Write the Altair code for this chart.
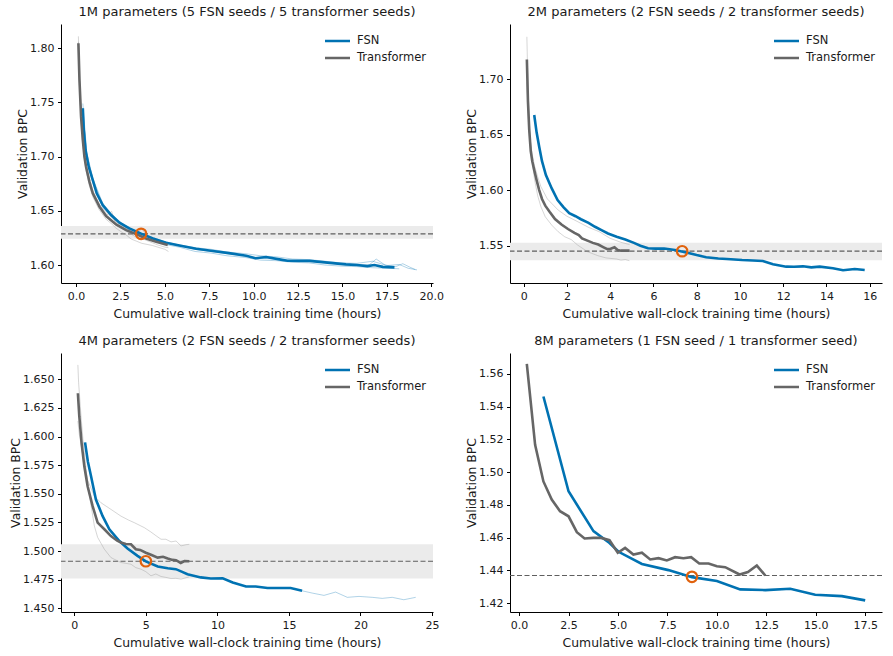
import altair as alt
import pandas as pd

FONT = "DejaVu Sans"
BLUE = "#0072B2"
GREY = "#666666"
ORANGE = "#E0620D"
BAND = "#EBEBEB"
DASH = "#5F5F5F"
TXT = "#1A1A1A"
XTITLE = "Cumulative wall-clock training time (hours)"
YTITLE = "Validation BPC"

# ---------------- Panel 1: 1M parameters ----------------
P1_TITLE = "1M parameters (5 FSN seeds / 5 transformer seeds)"
P1_FSN_X = [0.38, 0.43, 0.53, 0.71, 0.94, 1.16, 1.50, 1.97, 2.44, 3.0, 3.66, 4.32, 5.07, 5.82, 6.76,
            7.7, 8.6, 9.58, 10.1, 10.7, 11.45, 11.9, 13.15, 14.3, 15.2, 15.8, 16.4, 16.8, 17.27, 17.93]
P1_FSN_Y = [1.7446, 1.7246, 1.7061, 1.6907, 1.6784, 1.6661, 1.6553, 1.6461, 1.6390, 1.6338, 1.6290,
            1.6245, 1.6205, 1.6180, 1.6150, 1.6130, 1.6110, 1.6085, 1.6062, 1.6074, 1.6052, 1.6040,
            1.6038, 1.6020, 1.6006, 1.6000, 1.5990, 1.6000, 1.5983, 1.5978]
P1_TR_X = [0.13, 0.19, 0.28, 0.38, 0.47, 0.56, 0.75, 0.94, 1.32, 1.69, 2.25, 2.82, 3.38, 3.94, 4.51, 5.16]
P1_TR_Y = [1.8046, 1.7707, 1.7369, 1.7153, 1.6999, 1.6907, 1.6768, 1.6661, 1.6538, 1.6452, 1.6375,
           1.6322, 1.6285, 1.6245, 1.6214, 1.6184]
P1_TR_SEED_X = [0.13, 0.19, 0.28, 0.38, 0.56, 0.75, 0.94, 1.3, 1.7, 2.0, 2.25, 2.6, 2.8, 3.1, 3.4,
                3.7, 4.0, 4.3, 4.6, 5.0, 5.2]
P1_TR_SEED_A = [1.811, 1.776, 1.742, 1.719, 1.694, 1.680, 1.669, 1.656, 1.648, 1.644, 1.6395, 1.636,
                1.6345, 1.631, 1.629, 1.6335, 1.6265, 1.625, 1.623, 1.621, 1.6195]
P1_TR_SEED_B = [1.800, 1.766, 1.732, 1.711, 1.687, 1.673, 1.663, 1.651, 1.642, 1.638, 1.634, 1.630,
                1.628, 1.624, 1.622, 1.620, 1.619, 1.618, 1.6165, 1.6145, 1.6125]
P1_TR_SEED_C = [1.806, 1.771, 1.737, 1.716, 1.691, 1.677, 1.666, 1.6545, 1.646, 1.6495, 1.637, 1.6335,
                1.6315, 1.6285, 1.6255, 1.6245, 1.6225, 1.6205, 1.6185, 1.6165, 1.616]
P1_FSN_SEED_A_X = [0.38, 0.6, 0.94, 1.5, 2.0, 2.5, 3.0, 3.6, 4.3, 5.0, 5.8, 6.7, 7.6, 8.5, 9.5, 10.4,
                   11.3, 12.2, 13.1, 14.0, 14.9, 15.8, 16.7, 17.5, 18.2, 18.7, 19.2]
P1_FSN_SEED_A_Y = [1.749, 1.704, 1.680, 1.657, 1.647, 1.6395, 1.634, 1.630, 1.6255, 1.6215, 1.6185,
                   1.616, 1.6145, 1.612, 1.6105, 1.6085, 1.6075, 1.6055, 1.605, 1.6035, 1.602, 1.6015,
                   1.6035, 1.5995, 1.6005, 1.597, 1.5955]
P1_FSN_SEED_B_X = [0.38, 0.6, 0.94, 1.5, 2.0, 2.5, 3.0, 3.6, 4.3, 5.0, 5.8, 6.7, 7.6, 8.5, 9.5, 10.4,
                   11.3, 12.2, 13.1, 14.0, 14.9, 15.8, 16.7, 17.5, 18.2]
P1_FSN_SEED_B_Y = [1.741, 1.700, 1.676, 1.653, 1.645, 1.638, 1.632, 1.6275, 1.623, 1.619, 1.6165,
                   1.6125, 1.611, 1.6085, 1.607, 1.6045, 1.604, 1.6025, 1.602, 1.600, 1.599, 1.5985,
                   1.5975, 1.597, 1.5965]
P1_FSN_SEED_C_X = [0.38, 0.6, 0.94, 1.5, 2.0, 2.5, 3.0, 3.6, 4.3, 5.0, 5.8, 6.7, 7.6, 8.5, 9.5, 10.4,
                   11.3, 12.2, 13.1, 14.0, 14.9, 15.8, 16.5, 16.9, 17.4, 18.0, 18.4, 18.8, 19.1]
P1_FSN_SEED_C_Y = [1.745, 1.703, 1.679, 1.655, 1.6455, 1.6385, 1.6335, 1.6285, 1.6245, 1.6205, 1.6175,
                   1.6145, 1.6125, 1.6105, 1.6085, 1.606, 1.6055, 1.604, 1.6035, 1.6025, 1.6005, 1.600,
                   1.600, 1.6055, 1.600, 1.5985, 1.6012, 1.598, 1.5958]
P1_BAND = [1.6242, 1.6360]
P1_REF = 1.6288
P1_CROSS = [3.66, 1.6288]

# ---------------- Panel 2: 2M parameters ----------------
P2_TITLE = "2M parameters (2 FSN seeds / 2 transformer seeds)"
P2_FSN_X = [0.49, 0.6, 0.72, 0.85, 1.03, 1.3, 1.57, 1.85, 2.11, 2.4, 2.65, 3.0, 3.3, 3.6, 3.9, 4.3,
            4.7, 5.1, 5.4, 5.75, 6.1, 6.5, 7.0, 7.36, 7.67, 8.0, 8.44, 9.0, 9.4, 10.1, 10.6, 11.06,
            11.53, 12.14, 12.5, 12.92, 13.3, 13.69, 14.3, 14.77, 15.31, 15.77]
P2_FSN_Y = [1.6676, 1.652, 1.6391, 1.626, 1.6136, 1.6015, 1.5911, 1.5845, 1.5792, 1.5765, 1.5738,
            1.5705, 1.567, 1.564, 1.561, 1.558, 1.5555, 1.5525, 1.5500, 1.5476, 1.5473, 1.5474,
            1.5461, 1.5446, 1.5432, 1.5415, 1.5396, 1.5385, 1.538, 1.5371, 1.5367, 1.5362, 1.5332,
            1.5311, 1.531, 1.5314, 1.5305, 1.5311, 1.5297, 1.5279, 1.529, 1.5281]
P2_TR_X = [0.15, 0.2, 0.26, 0.33, 0.4, 0.49, 0.6, 0.72, 0.85, 1.0, 1.2, 1.45, 1.75, 2.05, 2.35, 2.55,
           2.7, 2.95, 3.2, 3.45, 3.7, 3.85, 4.0, 4.2, 4.35, 4.5, 4.7, 4.9]
P2_TR_Y = [1.7175, 1.680, 1.654, 1.635, 1.626, 1.618, 1.609, 1.600, 1.592, 1.586, 1.5805, 1.574,
           1.569, 1.565, 1.5615, 1.5596, 1.5566, 1.5545, 1.5525, 1.551, 1.5485, 1.547, 1.547,
           1.5485, 1.546, 1.5455, 1.5455, 1.5455]
P2_TR_SEED_A_X = [0.15, 0.2, 0.26, 0.33, 0.4, 0.5, 0.65, 0.8, 1.0, 1.3, 1.6, 1.9, 2.2, 2.5, 2.96, 3.43,
                  3.8, 4.04, 4.3, 4.5, 4.7, 4.89]
P2_TR_SEED_A_Y = [1.738, 1.695, 1.662, 1.640, 1.626, 1.610, 1.595, 1.585, 1.576, 1.5685, 1.5625, 1.558,
                  1.5555, 1.5505, 1.5445, 1.5410, 1.5390, 1.5385, 1.5380, 1.5370, 1.5375, 1.5365]
P2_TR_SEED_B_X = [0.15, 0.22, 0.3, 0.4, 0.5, 0.65, 0.8, 1.1, 1.6, 2.0, 2.5, 3.0, 3.5, 4.0, 4.5, 4.9]
P2_TR_SEED_B_Y = [1.697, 1.665, 1.645, 1.632, 1.622, 1.612, 1.603, 1.592, 1.582, 1.5765, 1.5716,
                  1.5665, 1.5625, 1.5566, 1.553, 1.551]
P2_BAND = [1.5369, 1.5527]
P2_REF = 1.5450
P2_CROSS = [7.33, 1.5450]

# ---------------- Panel 3: 4M parameters ----------------
P3_TITLE = "4M parameters (2 FSN seeds / 2 transformer seeds)"
P3_FSN_X = [0.75, 0.95, 1.17, 1.51, 1.98, 2.45, 3.15, 3.72, 4.42, 5.0, 5.83, 6.53, 7.1, 7.5, 7.91,
            8.84, 9.54, 10.37, 11.07, 12.0, 12.68, 13.5, 14.3, 15.12, 15.92]
P3_FSN_Y = [1.5949, 1.578, 1.5653, 1.545, 1.5305, 1.519, 1.5088, 1.5022, 1.4958, 1.4910, 1.4865,
            1.485, 1.4842, 1.482, 1.4798, 1.477, 1.4760, 1.4763, 1.4726, 1.4691, 1.4691, 1.4677,
            1.4677, 1.4677, 1.4653]
P3_TR_X = [0.25, 0.35, 0.51, 0.7, 0.93, 1.28, 1.63, 2.1, 2.56, 3.0, 3.26, 3.6, 3.96, 4.3, 4.6, 5.0,
           5.4, 5.83, 6.2, 6.53, 6.86, 7.11, 7.44, 7.7, 8.04]
P3_TR_Y = [1.6378, 1.6175, 1.5943, 1.574, 1.5566, 1.5392, 1.5248, 1.519, 1.5131, 1.509, 1.5074,
           1.5062, 1.5059, 1.5016, 1.501, 1.4985, 1.4965, 1.4943, 1.495, 1.4935, 1.4923, 1.4920,
           1.4896, 1.4912, 1.4911]
P3_TR_SEED_A_X = [0.25, 0.3, 0.4, 0.47, 0.6, 0.82, 1.0, 1.17, 1.4, 1.63, 2.1, 2.56, 3.26, 3.96, 4.3,
                  4.66, 5.0, 5.36, 5.7, 6.06, 6.4, 6.76, 7.1, 7.46, 8.04]
P3_TR_SEED_A_Y = [1.6625, 1.647, 1.630, 1.6175, 1.598, 1.572, 1.553, 1.540, 1.522, 1.512, 1.5016,
                  1.4943, 1.490, 1.4885, 1.4855, 1.4842, 1.482, 1.4784, 1.480, 1.4778, 1.477, 1.476,
                  1.4762, 1.4755, 1.4775]
P3_TR_SEED_B_X = [0.25, 0.35, 0.58, 0.93, 1.4, 1.86, 2.56, 3.26, 3.8, 4.19, 4.9, 5.36, 5.7, 6.06, 6.4,
                  6.76, 7.11, 7.46, 7.8, 8.04]
P3_TR_SEED_B_Y = [1.6135, 1.602, 1.585, 1.562, 1.548, 1.5422, 1.5364, 1.5305, 1.527, 1.5248, 1.5204,
                  1.5166, 1.5135, 1.5103, 1.5103, 1.508, 1.5088, 1.5045, 1.5055, 1.5059]
P3_FSN_SEED_X = [12.0, 12.68, 13.5, 14.3, 15.12, 15.92, 16.64, 17.45, 18.26, 19.08, 19.9, 20.83,
                 21.52, 22.22, 23.03, 23.86]
P3_FSN_SEED_Y = [1.4691, 1.4691, 1.4677, 1.4677, 1.4677, 1.4653, 1.4633, 1.4613, 1.4642, 1.4596,
                 1.4604, 1.4596, 1.4587, 1.4596, 1.4575, 1.4596]
P3_BAND = [1.4761, 1.5059]
P3_REF = 1.4911
P3_CROSS = [5.0, 1.4911]

# ---------------- Panel 4: 8M parameters ----------------
P4_TITLE = "8M parameters (1 FSN seed / 1 transformer seed)"
P4_FSN_X = [1.23, 2.5, 3.76, 4.52, 5.03, 6.21, 7.55, 8.74, 10.0, 11.18, 12.45, 13.71, 14.97, 16.32, 17.5]
P4_FSN_Y = [1.5462, 1.4883, 1.4639, 1.4572, 1.4513, 1.4439, 1.4401, 1.4358, 1.4334, 1.4283, 1.4279,
            1.4287, 1.4250, 1.4242, 1.4216]
P4_TR_X = [0.39, 0.81, 1.23, 1.65, 2.07, 2.5, 2.92, 3.31, 3.76, 4.15, 4.57, 4.99, 5.36, 5.78, 6.21,
           6.63, 7.05, 7.47, 7.89, 8.31, 8.7, 9.11, 9.58, 10.0, 10.42, 11.15, 11.57, 12.02, 12.45]
P4_TR_Y = [1.5661, 1.5167, 1.4943, 1.4832, 1.4761, 1.4730, 1.4633, 1.4594, 1.4598, 1.4598, 1.4584,
           1.4507, 1.4537, 1.4496, 1.4507, 1.4466, 1.4474, 1.4460, 1.4480, 1.4474, 1.4480, 1.4441,
           1.4441, 1.4425, 1.4419, 1.4374, 1.4389, 1.4429, 1.4368]
P4_REF = 1.4368
P4_CROSS = [8.74, 1.4360]

# ---------------- axes ----------------
P1_XDOM, P1_YDOM = [-0.85, 20.1], [1.5834, 1.8224]
P2_XDOM, P2_YDOM = [-0.63, 16.57], [1.5164, 1.7495]
P3_XDOM, P3_YDOM = [-0.93, 25.07], [1.4468, 1.6729]
P4_XDOM, P4_YDOM = [-0.46, 18.35], [1.4145, 1.5728]
P1_XT = [0, 2.5, 5, 7.5, 10, 12.5, 15, 17.5, 20]
P1_YT = [1.60, 1.65, 1.70, 1.75, 1.80]
P2_XT = [0, 2, 4, 6, 8, 10, 12, 14, 16]
P2_YT = [1.55, 1.60, 1.65, 1.70]
P3_XT = [0, 5, 10, 15, 20, 25]
P3_YT = [1.450, 1.475, 1.500, 1.525, 1.550, 1.575, 1.600, 1.625, 1.650]
P4_XT = [0, 2.5, 5, 7.5, 10, 12.5, 15, 17.5]
P4_YT = [1.42, 1.44, 1.46, 1.48, 1.50, 1.52, 1.54, 1.56]

W, H = 372, 259


def seeds_frame(seeds):
    rows = []
    for i, (xs, ys) in enumerate(seeds):
        for x, y in zip(xs, ys):
            rows.append({"x": x, "y": y, "seed": i})
    return pd.DataFrame(rows, columns=["x", "y", "seed"])


def panel(title, fx, fy, tx, ty, fsn_seeds, tr_seeds, band, ref, cross,
          xdom, xt, xfmt, ydom, yt, yfmt):
    xsc = alt.Scale(domain=xdom, nice=False, zero=False)
    ysc = alt.Scale(domain=ydom, nice=False, zero=False)
    xax = alt.Axis(values=xt, format=xfmt, title=XTITLE, labelFlush=False, labelOverlap=False)
    yax = alt.Axis(values=yt, format=yfmt, title=YTITLE, labelOverlap=False)

    def X(f):
        return alt.X(f, type="quantitative", scale=xsc, axis=xax)

    def Y(f):
        return alt.Y(f, type="quantitative", scale=ysc, axis=yax)

    layers = []
    if band:
        bdf = pd.DataFrame({"x0": [xdom[0]], "x1": [xdom[1]], "y0": [band[0]], "y1": [band[1]]})
        layers.append(alt.Chart(bdf).mark_rect(color=BAND).encode(
            x=X("x0"), x2="x1", y=Y("y0"), y2="y1"))
    rdf = pd.DataFrame({"y": [ref]})
    layers.append(alt.Chart(rdf).mark_rule(color=DASH, strokeDash=[5, 2.5], strokeWidth=1.2)
                  .encode(y=Y("y")))
    if tr_seeds:
        layers.append(alt.Chart(seeds_frame(tr_seeds)).mark_line(
            color="#9A9A9A", opacity=0.45, strokeWidth=0.9).encode(x=X("x"), y=Y("y"), detail="seed:N"))
    if fsn_seeds:
        layers.append(alt.Chart(seeds_frame(fsn_seeds)).mark_line(
            color=BLUE, opacity=0.35, strokeWidth=0.9).encode(x=X("x"), y=Y("y"), detail="seed:N"))
    mdf = pd.DataFrame({
        "x": fx + tx,
        "y": fy + ty,
        "model": ["FSN"] * len(fx) + ["Transformer"] * len(tx),
    })
    layers.append(alt.Chart(mdf).mark_line(strokeWidth=2.6).encode(
        x=X("x"), y=Y("y"),
        color=alt.Color("model:N",
                        scale=alt.Scale(domain=["FSN", "Transformer"], range=[BLUE, GREY]),
                        legend=alt.Legend(title=None, orient="none", legendX=262.5, legendY=9.5,
                                          symbolType="stroke", symbolSize=625,
                                          symbolStrokeWidth=2.6, labelOffset=5.5,
                                          clipHeight=15, rowPadding=2, padding=0)),
    ))
    cdf = pd.DataFrame({"x": [cross[0]], "y": [cross[1]]})
    layers.append(alt.Chart(cdf).mark_point(shape="circle", filled=False, size=110,
                                            strokeWidth=2.2, color=ORANGE, opacity=1)
                  .encode(x=X("x"), y=Y("y")))
    return alt.layer(*layers).properties(
        width=W, height=H,
        title=alt.TitleParams(title, fontSize=13, font=FONT, fontWeight="normal",
                              color=TXT, offset=5, anchor="middle"))


p1 = panel(P1_TITLE, P1_FSN_X, P1_FSN_Y, P1_TR_X, P1_TR_Y,
           [(P1_FSN_SEED_A_X, P1_FSN_SEED_A_Y), (P1_FSN_SEED_B_X, P1_FSN_SEED_B_Y),
            (P1_FSN_SEED_C_X, P1_FSN_SEED_C_Y)],
           [(P1_TR_SEED_X, P1_TR_SEED_A), (P1_TR_SEED_X, P1_TR_SEED_B), (P1_TR_SEED_X, P1_TR_SEED_C)],
           P1_BAND, P1_REF, P1_CROSS, P1_XDOM, P1_XT, ".1f", P1_YDOM, P1_YT, ".2f")
p2 = panel(P2_TITLE, P2_FSN_X, P2_FSN_Y, P2_TR_X, P2_TR_Y, [],
           [(P2_TR_SEED_A_X, P2_TR_SEED_A_Y), (P2_TR_SEED_B_X, P2_TR_SEED_B_Y)],
           P2_BAND, P2_REF, P2_CROSS, P2_XDOM, P2_XT, "d", P2_YDOM, P2_YT, ".2f")
p3 = panel(P3_TITLE, P3_FSN_X, P3_FSN_Y, P3_TR_X, P3_TR_Y,
           [(P3_FSN_SEED_X, P3_FSN_SEED_Y)],
           [(P3_TR_SEED_A_X, P3_TR_SEED_A_Y), (P3_TR_SEED_B_X, P3_TR_SEED_B_Y)],
           P3_BAND, P3_REF, P3_CROSS, P3_XDOM, P3_XT, "d", P3_YDOM, P3_YT, ".3f")
p4 = panel(P4_TITLE, P4_FSN_X, P4_FSN_Y, P4_TR_X, P4_TR_Y, [], [],
           None, P4_REF, P4_CROSS, P4_XDOM, P4_XT, ".1f", P4_YDOM, P4_YT, ".2f")

chart = alt.concat(p1, p2, p3, p4, columns=2, spacing={"row": 70, "column": 77}, bounds="flush").resolve_scale(
    x="independent", y="independent", color="independent"
).resolve_legend(color="independent").properties(
    padding={"left": 9, "top": 6, "right": 5, "bottom": 5}
).configure(font=FONT).configure_axis(
    labelFont=FONT, titleFont=FONT, labelFontSize=11, titleFontSize=12.4, titleFontWeight="normal",
    labelColor=TXT, titleColor=TXT, domainColor="#000000", tickColor="#000000",
    domainWidth=1, tickWidth=1, tickSize=3.5, labelPadding=3.5, grid=False
).configure_axisX(titlePadding=6).configure_axisY(titlePadding=0.5).configure_view(
    stroke=None
).configure_legend(labelFont=FONT, labelFontSize=11.5, labelColor=TXT)

chart.save("out.html", embed_options={"renderer": "svg", "actions": False})
